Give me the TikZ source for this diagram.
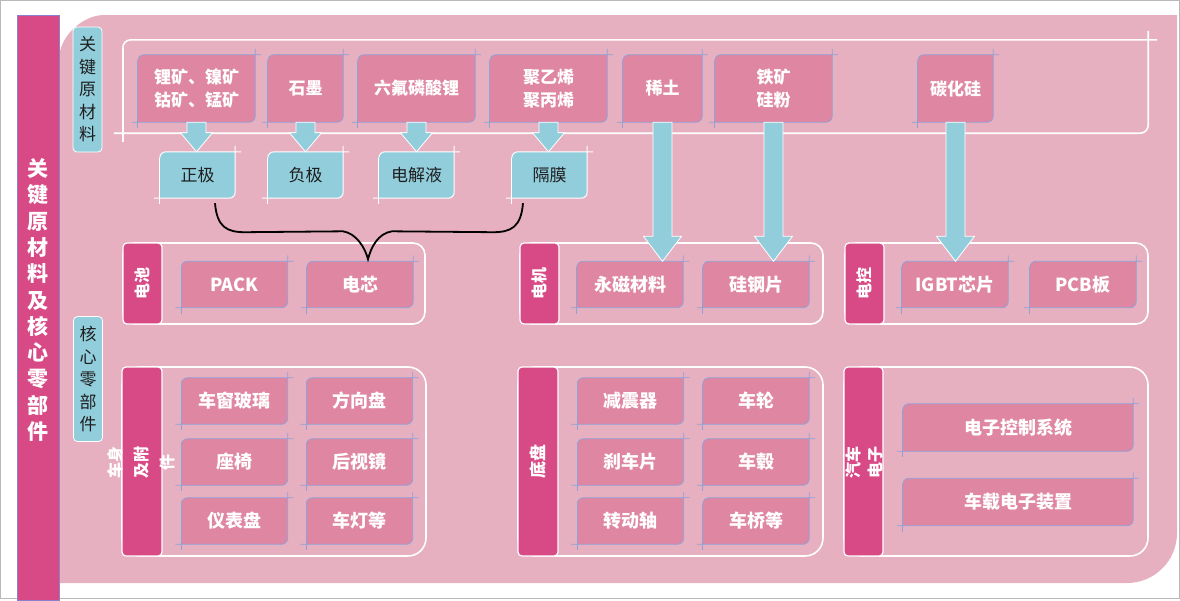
\documentclass[tikz,border=0pt]{standalone}
\usepackage{fontspec}
\newfontfamily\cjk{Noto Sans CJK SC}
\usetikzlibrary{calc}
\definecolor{bgpink}{HTML}{E6B0C1}
\definecolor{boxpink}{HTML}{DF86A2}
\definecolor{magbar}{HTML}{D84A86}
\definecolor{lblue}{HTML}{92CDDC}
\definecolor{edgeblue}{HTML}{8EA2D8}
\definecolor{barline}{HTML}{8C7FCB}
\definecolor{txtdark}{HTML}{1F1F1F}
\pgfdeclarelayer{back}\pgfdeclarelayer{mid}\pgfsetlayers{back,mid,main}

% diagonal-rounded fill (NW and SE rounded)
\newcommand\dfill[3]{\fill[#2] (#1.south west) -- ($(#1.north west)+(0,#3)$) .. controls ($(#1.north west)+(0,0.45*#3)$) and ($(#1.north west)+(0.45*#3,0)$) .. ($(#1.north west)+(#3,0)$) -- (#1.north east) -- ($(#1.south east)-(0,#3)$) .. controls ($(#1.south east)-(0,0.45*#3)$) and ($(#1.south east)-(0.45*#3,0)$) .. ($(#1.south east)-(#3,0)$) -- cycle;}
% outline with corner ticks at NE and SW
\newcommand\dline[5]{%
 \draw[#2,line width=#4] ($(#1.north west)+(0,#3)$) .. controls ($(#1.north west)+(0,0.45*#3)$) and ($(#1.north west)+(0.45*#3,0)$) .. ($(#1.north west)+(#3,0)$) -- ($(#1.north east)+(#5,0)$);
 \draw[#2,line width=#4] ($(#1.north east)+(0,-#5)$) -- ($(#1.south east)-(0,#3)$) .. controls ($(#1.south east)-(0,0.45*#3)$) and ($(#1.south east)-(0.45*#3,0)$) .. ($(#1.south east)-(#3,0)$) -- ($(#1.south west)+(-#5,0)$);
 \draw[#2,line width=#4] ($(#1.north west)+(0,#3)$) -- ($(#1.south west)+(0,#5)$);}
% block arrow from node to node
\newcommand\barrow[4]{%
 \path[fill=lblue, draw=white, line width=0.8pt] let \p1=(#1.south), \p2=(#2.north) in
 (\x1-9.5pt,\y1) -- (\x1+9.5pt,\y1) -- (\x1+9.5pt,\y2+#4) -- (\x1+#3,\y2+#4) -- (\x1,\y2) -- (\x1-#3,\y2+#4) -- (\x1-9.5pt,\y2+#4) -- cycle;}

\tikzset{
 pb/.style={inner sep=0pt, text=white, align=center, font=\cjk\bfseries\fontsize{17}{23}\selectfont},
 bb/.style={inner sep=0pt, text=txtdark, align=center, minimum width=75pt, minimum height=46pt, font=\cjk\fontsize{17}{20}\selectfont},
 gb/.style={pb, minimum width=106pt, minimum height=46pt, font=\cjk\bfseries\fontsize{18}{22}\selectfont},
 tabbox/.style={fill=magbar, draw=white, line width=1.2pt, rounded corners=4pt, inner sep=0pt, rotate=90, text=white, align=center},
 tablab/.style={inner sep=0pt, rotate=90, text=white, align=center},
 framebox/.style={draw=white, line width=1.6pt, inner sep=0pt},
 sidelab/.style={fill=lblue, draw=white, line width=0.8pt, rounded corners=4pt, inner sep=0pt, minimum width=29pt, minimum height=125pt, align=center, text=txtdark, font=\cjk\fontsize{17}{22.5}\selectfont},
}

\begin{document}
\begin{tikzpicture}[x=1pt,y=-1pt]
\useasboundingbox (0,0) rectangle (1180,600);

\begin{pgfonlayer}{back}
 \fill[white] (0,0) rectangle (1180,600);
 \fill[bgpink] (59,583) -- (59,60) .. controls (59,35.2) and (83.8,15) .. (104,15) -- (1177,15) -- (1177,533) .. controls (1177,560.6) and (1154.6,583) .. (1127,583) -- cycle;
 \draw[gray!55, line width=0.8pt] (0.5,0.5) rectangle (1179.5,598.5);
 % group frames
 \node[framebox, rounded corners=12pt, minimum width=302pt, minimum height=81pt] (fbat) at (274,283.5) {};
 \node[framebox, rounded corners=12pt, minimum width=303pt, minimum height=81pt] (fmot) at (671.5,283.5) {};
 \node[framebox, rounded corners=12pt, minimum width=303pt, minimum height=81pt] (fctl) at (996.5,283.5) {};
 \node[framebox, rounded corners=18pt, minimum width=304pt, minimum height=189pt] (fbody) at (274,461.5) {};
 \node[framebox, rounded corners=18pt, minimum width=305pt, minimum height=189pt] (fchas) at (670.5,461.5) {};
 \node[framebox, rounded corners=18pt, minimum width=304pt, minimum height=189pt] (felec) at (996,461.5) {};
\end{pgfonlayer}

% left main bar
\node[fill=magbar, draw=barline, line width=1pt, minimum width=42pt, minimum height=585pt, inner sep=0pt] (mainbar) at (38,307.5) {};
\node[text=white, align=center, inner sep=0pt, font=\cjk\bfseries\fontsize{21}{26.3}\selectfont] (maintext) at (38,300) {关\\键\\原\\材\\料\\及\\核\\心\\零\\部\\件};

% side labels
\node[sidelab] (labraw) at (87.5,89.5) {关\\键\\原\\材\\料};
\node[sidelab] (labcore) at (88,379) {核\\心\\零\\部\\件};

% bracket frame of raw materials
\node[inner sep=0pt, minimum width=1025pt, minimum height=93pt] (rawframe) at (635.5,86.5) {};

% raw materials
\node[pb, minimum width=117pt, minimum height=67pt] (r1) at (196.5,88.5) {锂矿、镍矿\\钴矿、锰矿};
\node[pb, minimum width=75pt, minimum height=67pt] (r2) at (305.5,88.5) {石墨};
\node[pb, minimum width=117pt, minimum height=67pt] (r3) at (416.5,88.5) {六氟磷酸锂};
\node[pb, minimum width=117pt, minimum height=67pt] (r4) at (548.5,88.5) {聚乙烯\\聚丙烯};
\node[pb, minimum width=79pt, minimum height=67pt] (r5) at (662.5,88.5) {稀土};
\node[pb, minimum width=117pt, minimum height=67pt] (r6) at (773.5,88.5) {铁矿\\硅粉};
\node[pb, minimum width=75pt, minimum height=67pt] (r7) at (955.5,88.5) {碳化硅};

% battery materials
\node[bb] (zj) at (197.5,175) {正极};
\node[bb] (fj) at (305.5,175) {负极};
\node[bb] (dj) at (416.5,175) {电解液};
\node[bb] (gm) at (549.5,175) {隔膜};

% upper groups
\node[tabbox, minimum width=81pt, minimum height=39pt, font=\cjk\bfseries\fontsize{16}{20}\selectfont] (tbat) at (142.5,283.5) {电池};
\node[tabbox, minimum width=81pt, minimum height=39pt, font=\cjk\bfseries\fontsize{16}{20}\selectfont] (tmot) at (539.5,283.5) {电机};
\node[tabbox, minimum width=81pt, minimum height=39pt, font=\cjk\bfseries\fontsize{16}{20}\selectfont] (tctl) at (864.5,283.5) {电控};
\node[gb] (pack) at (234.5,284.5) {PACK};
\node[gb] (dx) at (360,284.5) {电芯};
\node[gb] (ymc) at (630,284.5) {永磁材料};
\node[gb] (ggp) at (756,284.5) {硅钢片};
\node[gb] (igbt) at (955,284.5) {IGBT芯片};
\node[gb] (pcb) at (1083,284.5) {PCB板};

% lower groups
\node[tabbox, minimum width=189pt, minimum height=40pt] (tbody) at (142,461.5) {};
\node[tablab, font=\cjk\bfseries\fontsize{16}{26}\selectfont] (lbody) at (141,462) {车身\\及附\\件};
\node[tabbox, minimum width=189pt, minimum height=40pt, font=\cjk\bfseries\fontsize{17}{22}\selectfont] (tchas) at (538,461.5) {底盘};
\node[tabbox, minimum width=189pt, minimum height=39pt] (telec) at (863.5,461.5) {};
\node[tablab, font=\cjk\bfseries\fontsize{16}{22}\selectfont] (lelec) at (864,462) {汽车\\电子};

\node[gb] (b1) at (234.5,401) {车窗玻璃};
\node[gb] (b2) at (359.5,401) {方向盘};
\node[gb] (b3) at (234.5,462) {座椅};
\node[gb] (b4) at (359.5,462) {后视镜};
\node[gb] (b5) at (234.5,521) {仪表盘};
\node[gb] (b6) at (359.5,521) {车灯等};

\node[gb] (c1) at (630.5,401) {减震器};
\node[gb] (c2) at (756,401) {车轮};
\node[gb] (c3) at (630.5,462) {刹车片};
\node[gb] (c4) at (756,462) {车毂};
\node[gb] (c5) at (630.5,521) {转动轴};
\node[gb] (c6) at (756,521) {车桥等};

\node[gb, minimum width=230pt, minimum height=47pt] (e1) at (1018,427.5) {电子控制系统};
\node[gb, minimum width=230pt, minimum height=47pt] (e2) at (1018,502) {车载电子装置};

% shapes behind texts
\begin{pgfonlayer}{back}
 \dline{rawframe}{white}{8}{1.6pt}{9}
\end{pgfonlayer}
\begin{pgfonlayer}{mid}
 \foreach \n in {r1,r2,r3,r4,r5,r6,r7,pack,dx,ymc,ggp,igbt,pcb,b1,b2,b3,b4,b5,b6,c1,c2,c3,c4,c5,c6,e1,e2}{
  \dfill{\n}{boxpink}{6}
  \dline{\n}{edgeblue}{6}{0.8pt}{6}
 }
 \foreach \n in {zj,fj,dj,gm}{
  \dfill{\n}{lblue}{6}
  \dline{\n}{white}{6}{1pt}{6}
 }
\end{pgfonlayer}

% block arrows
\barrow{r1}{zj}{16pt}{19pt}
\barrow{r2}{fj}{16pt}{19pt}
\barrow{r3}{dj}{16pt}{19pt}
\barrow{r4}{gm}{16pt}{19pt}
\barrow{r5}{ymc}{19pt}{25pt}
\barrow{r6}{ggp}{19pt}{25pt}
\barrow{r7}{igbt}{19pt}{25pt}

% brace
\coordinate (bl) at ($(zj.south)+(17.5,5)$);
\coordinate (br) at ($(gm.south)+(-26.5,5)$);
\coordinate (bt) at ($(dx.north)+(8,-2)$);
\draw[line width=1.8pt, black] (bl) .. controls ($(bl)+(2,24)$) and ($(bl)+(12,29)$) .. ($(bl)+(30,29)$)
 -- ($(bt)+(-25,-28)$) .. controls ($(bt)+(-12,-26)$) and ($(bt)+(-3,-12)$) .. (bt)
 .. controls ($(bt)+(3,-12)$) and ($(bt)+(10,-26)$) .. ($(bt)+(24,-28)$)
 -- ($(br)+(-30,29)$) .. controls ($(br)+(-12,29)$) and ($(br)+(-2,24)$) .. (br);
\end{tikzpicture}
\end{document}
